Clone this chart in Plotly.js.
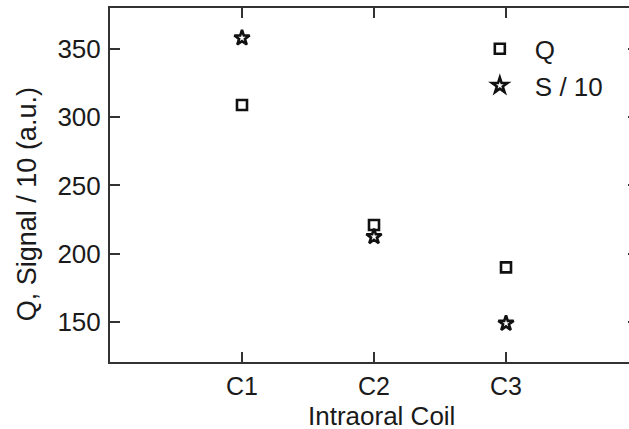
<!DOCTYPE html>
<html>
<head>
<meta charset="utf-8">
<script src="https://cdn.plot.ly/plotly-3.0.1.min.js"></script>
<style>
html,body{margin:0;padding:0;overflow:hidden;background:#fff;}
#chart{width:660px;height:429px;}
</style>
</head>
<body>
<div id="chart"></div>
<script>
var categories = ["C1", "C2", "C3"];
var qValues = [309, 221, 190];
var sValues = [358, 212.5, 149];
var yTicks = [150, 200, 250, 300, 350];

var FONT = "Liberation Sans, Arial, sans-serif";
var INK = "#1a1a1a";

var traces = [
  {
    x: categories, y: qValues, name: "Q", type: "scatter", mode: "markers",
    marker: {symbol: "square-open", size: 10, color: "#111", line: {width: 2.6, color: "#111"}}
  },
  {
    x: categories, y: sValues, name: "S / 10", type: "scatter", mode: "markers",
    marker: {symbol: "star-open", size: 11.5, color: "#111", line: {width: 2.6, color: "#111"}}
  }
];

var axisCommon = {
  showline: true, linecolor: "#333", linewidth: 2, mirror: "ticks",
  ticks: "inside", ticklen: 10, tickwidth: 2, tickcolor: "#333",
  showgrid: false, zeroline: false,
  tickfont: {family: FONT, size: 25, color: INK}
};

var layout = {
  width: 660, height: 429,
  margin: {l: 110, r: 22, t: 8, b: 67},
  paper_bgcolor: "#fff", plot_bgcolor: "#fff",
  showlegend: true,
  legend: {
    x: 0.672, y: 0.951, xanchor: "left", yanchor: "top",
    font: {family: FONT, size: 26, color: INK},
    bgcolor: "rgba(0,0,0,0)", itemwidth: 60, tracegroupgap: 0
  },
  xaxis: Object.assign({}, axisCommon, {
    type: "category", categoryorder: "array", categoryarray: categories,
    range: [-1, 3], tickvals: categories, ticklabelstandoff: 1
  }),
  yaxis: Object.assign({}, axisCommon, {
    range: [120.7, 380], tickvals: yTicks, ticklabelstandoff: 2,
    tickfont: {family: FONT, size: 26, color: INK}
  }),
  annotations: [
    {text: "Q, Signal / 10 (a.u.)", xref: "paper", yref: "paper", x: -0.157, y: 0.446,
     xanchor: "center", yanchor: "middle", textangle: -90, showarrow: false,
     font: {family: FONT, size: 27, color: INK}},
    {text: "Intraoral Coil", xref: "paper", yref: "paper", x: 0.514, y: -0.1525,
     xanchor: "center", yanchor: "middle", showarrow: false,
     font: {family: FONT, size: 26, color: INK}}
  ]
};

Plotly.newPlot("chart", traces, layout, {displayModeBar: false, staticPlot: true});
</script>
</body>
</html>
